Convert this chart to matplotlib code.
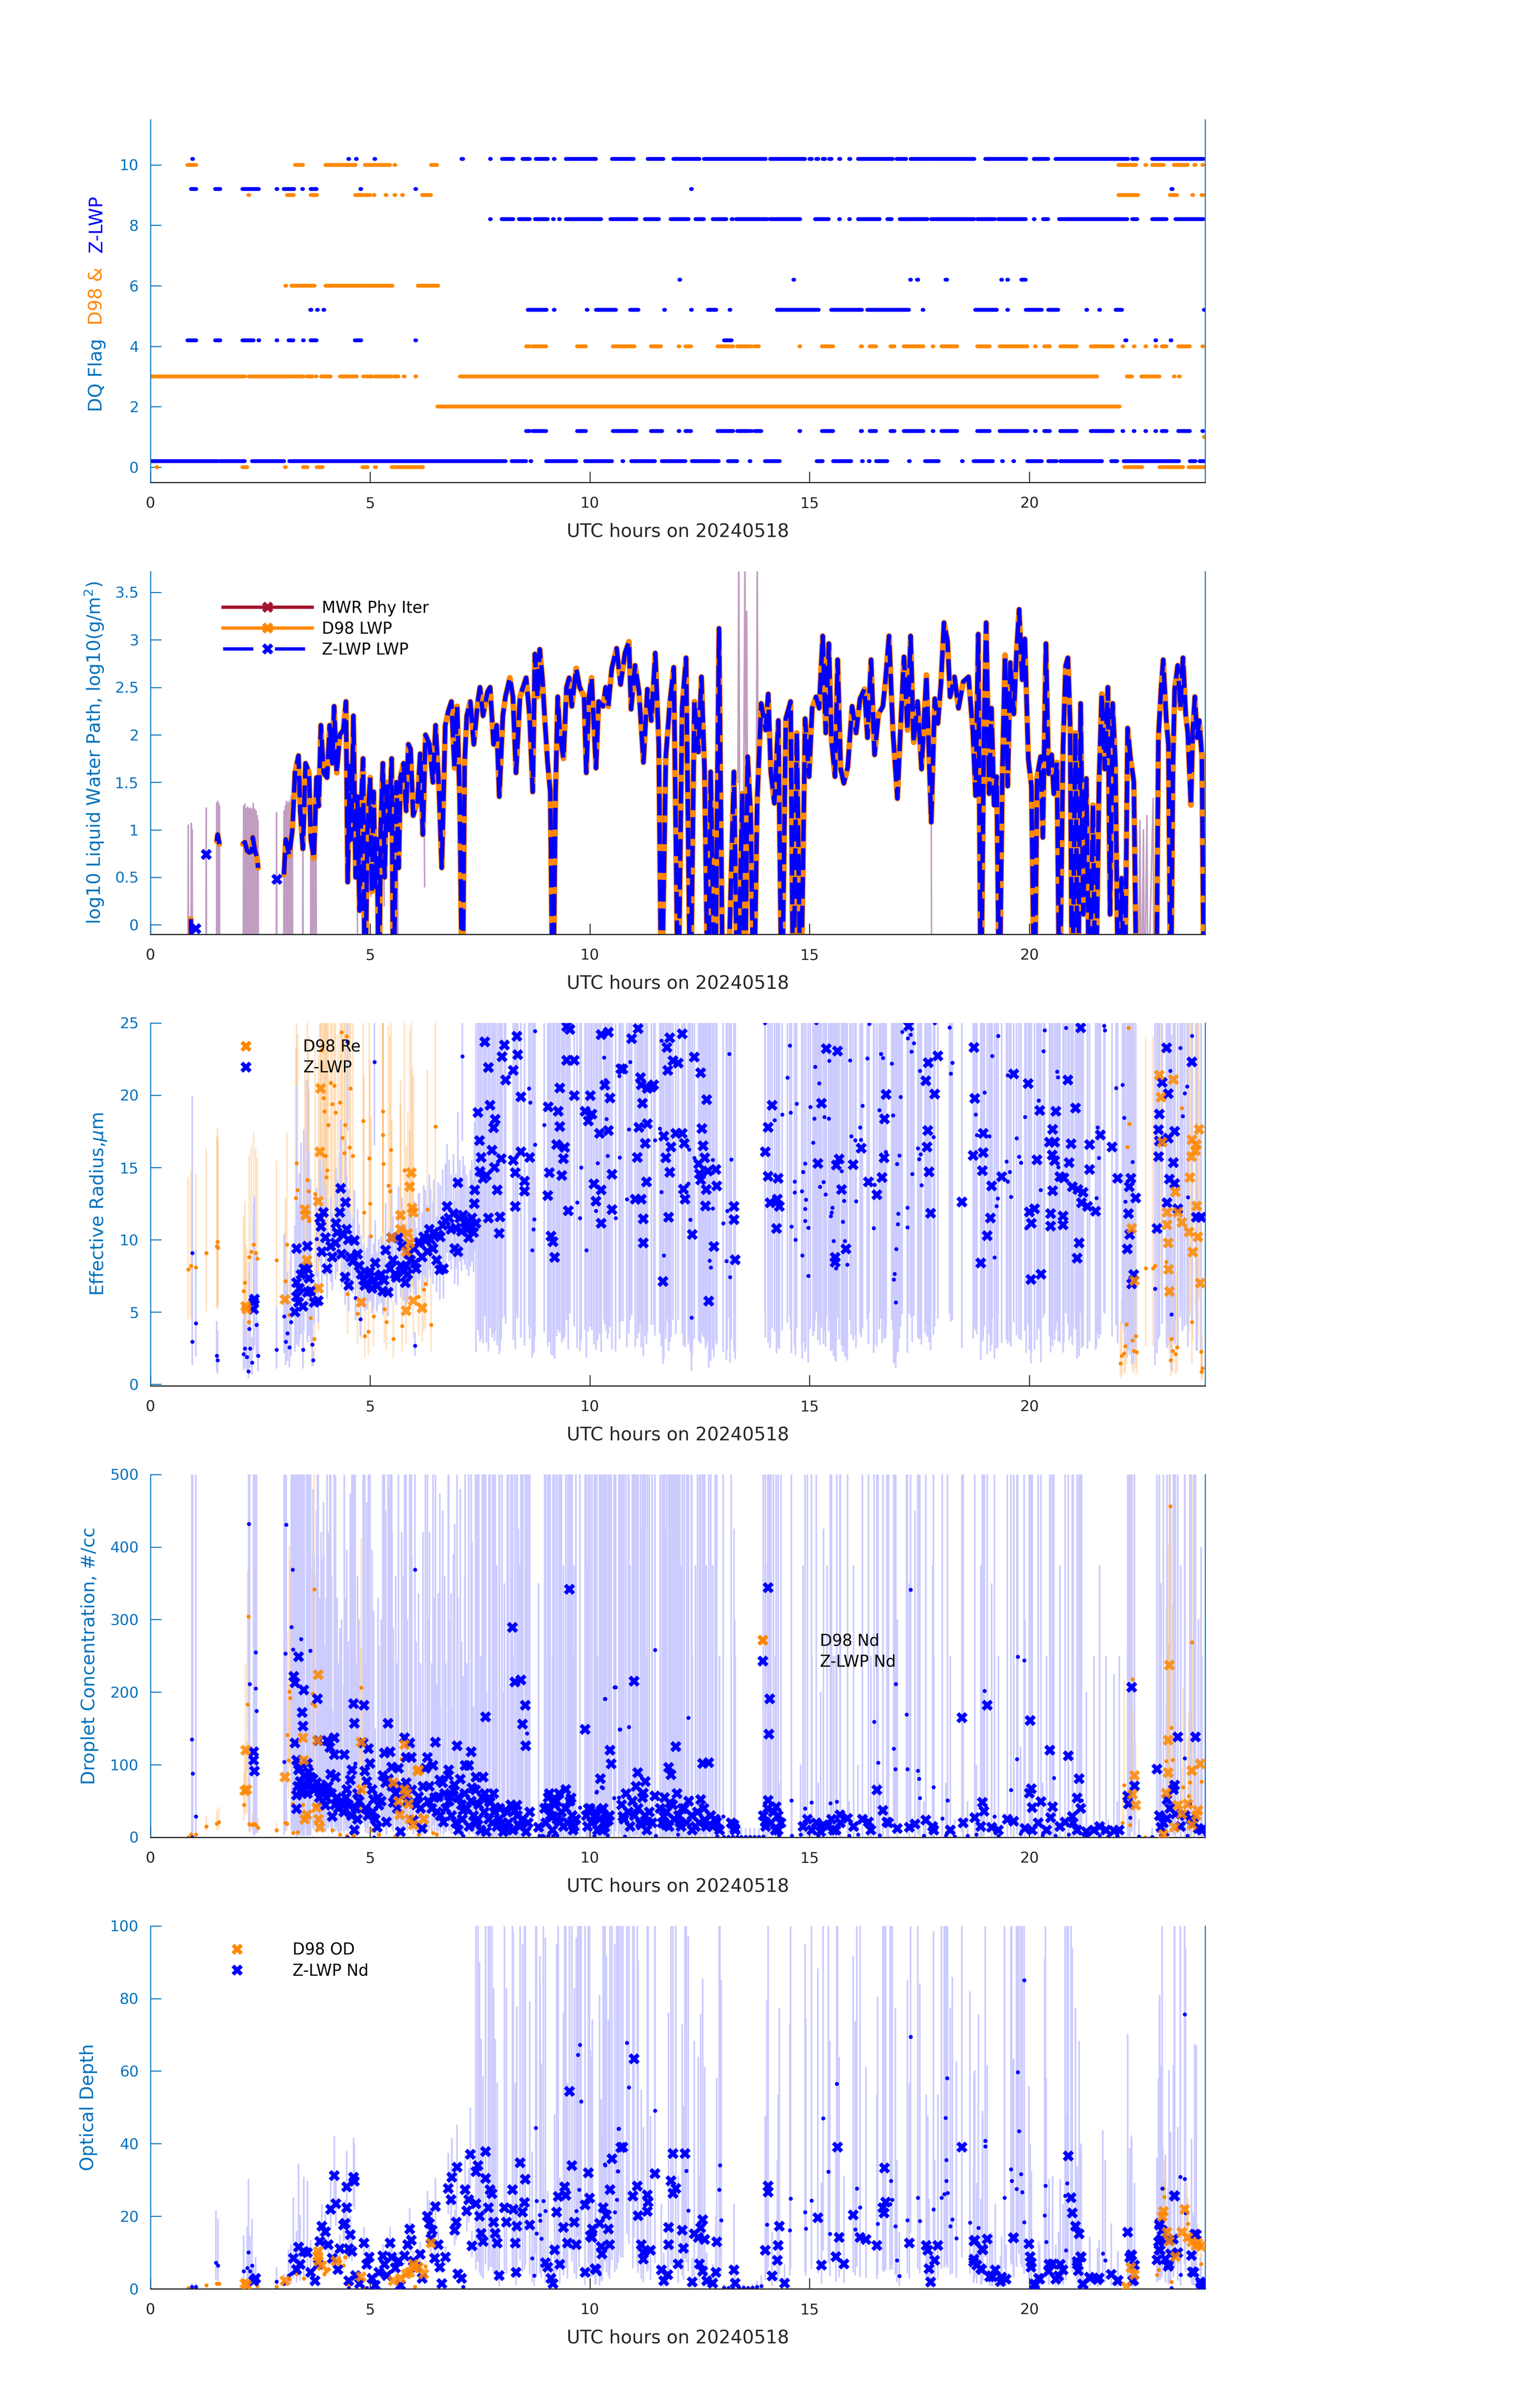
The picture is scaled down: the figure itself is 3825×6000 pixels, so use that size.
# --------------------------------------------------
# Cloud retrieval summary, 2024-05-18
# DQ flags / LWP / Re / Nd / optical depth
# --------------------------------------------------

import numpy as np
import matplotlib
matplotlib.use("Agg")
import matplotlib.pyplot as plt
from matplotlib.lines import Line2D
from matplotlib.ticker import FuncFormatter

nan = np.nan

# --------------------------------------------------
# DATA: panel 1, quality flags as (start, end) hour intervals
# --------------------------------------------------

zlwp_flag10 = [(0.95, 0.97), (4.5, 4.52), (4.68, 4.7), (5.1, 5.12), (7.08, 7.12), (7.73, 7.75),
               (8.0, 8.26), (8.47, 8.63), (8.77, 9.04), (9.18, 9.2), (9.45, 10.14), (10.5, 11.0),
               (11.32, 11.67), (11.9, 12.5), (12.6, 14.0), (14.1, 14.9), (15.0, 15.05), (15.15, 15.2),
               (15.3, 15.35), (15.45, 15.5), (15.67, 15.7), (15.9, 15.93), (16.1, 16.9), (16.98, 17.2),
               (17.3, 17.7), (17.73, 18.75), (19.0, 19.93), (20.1, 20.43), (20.6, 22.25), (22.34, 22.46),
               (22.8, 23.97)]
d98_flag10 = [(0.84, 1.04), (3.29, 3.47), (3.98, 4.67), (4.88, 5.45), (5.55, 5.57), (6.39, 6.52),
              (22.03, 22.43), (22.64, 22.66), (22.8, 23.06), (23.29, 23.6), (23.76, 23.78), (23.94, 23.96)]
zlwp_flag9 = [(0.92, 1.04), (1.47, 1.59), (2.09, 2.47), (2.87, 2.89), (3.03, 3.27), (3.45, 3.47),
              (3.65, 3.78), (4.78, 4.8), (6.03, 6.05), (12.3, 12.32), (23.24, 23.26)]
d98_flag9 = [(2.23, 2.25), (3.11, 3.26), (3.65, 3.79), (4.66, 4.84), (4.89, 5.0), (5.08, 5.1),
             (5.35, 5.37), (5.55, 5.57), (5.73, 5.75), (6.18, 6.39), (22.03, 22.48), (23.2, 23.36),
             (23.71, 23.73), (23.92, 23.96)]
zlwp_flag8 = [(7.73, 7.75), (7.99, 8.26), (8.39, 8.63), (8.75, 9.04), (9.16, 9.18), (9.3, 9.32),
              (9.45, 10.26), (10.47, 11.06), (11.25, 11.57), (11.84, 12.25), (12.4, 12.6), (12.8, 13.11),
              (13.23, 13.25), (13.33, 14.04), (14.09, 14.79), (15.13, 15.44), (15.67, 15.69), (15.9, 15.92),
              (16.1, 16.6), (16.77, 16.87), (17.05, 17.68), (17.77, 18.75), (18.82, 19.22), (19.29, 19.92),
              (20.1, 20.12), (20.31, 20.43), (20.68, 22.23), (22.34, 22.46), (22.8, 23.13), (23.33, 23.97)]
d98_flag6 = [(3.07, 3.09), (3.21, 3.74), (3.98, 4.8), (4.84, 5.51), (6.08, 6.55)]
zlwp_flag6 = [(12.04, 12.06), (14.63, 14.65), (17.29, 17.31), (17.45, 17.47), (18.09, 18.13),
              (19.36, 19.38), (19.5, 19.52), (19.82, 19.92)]
zlwp_flag5 = [(3.64, 3.66), (3.79, 3.81), (3.94, 3.96), (8.59, 9.02), (9.18, 9.2), (9.93, 9.95),
              (10.14, 10.6), (10.92, 11.11), (11.69, 11.71), (12.3, 12.32), (12.69, 12.88), (13.18, 13.2),
              (14.26, 15.21), (15.49, 16.19), (16.31, 17.26), (17.57, 17.59), (18.77, 19.26), (19.5, 19.52),
              (19.92, 20.29), (20.43, 20.66), (21.3, 21.32), (21.59, 21.61), (21.97, 22.11), (23.98, 24.0)]
d98_flag4 = [(8.55, 8.63), (8.7, 9.01), (9.71, 9.91), (10.52, 11.02), (11.39, 11.62), (12.02, 12.04),
             (12.18, 12.3), (12.91, 13.26), (13.35, 13.63), (13.67, 13.69), (13.76, 13.85), (14.77, 14.79),
             (15.28, 15.54), (16.17, 16.19), (16.37, 16.51), (16.84, 16.93), (17.14, 17.59), (17.8, 17.82),
             (18.0, 18.36), (18.82, 19.1), (19.33, 19.96), (20.13, 20.15), (20.34, 20.47), (20.71, 21.08),
             (21.4, 21.9), (22.12, 22.14), (22.38, 22.4), (22.64, 22.66), (22.87, 22.89), (23.02, 23.13),
             (23.39, 23.66), (23.94, 23.96)]
zlwp_flag4 = [(0.84, 1.04), (1.47, 1.59), (2.09, 2.35), (2.46, 2.48), (2.87, 2.89), (3.14, 3.25),
              (3.47, 3.49), (3.65, 3.78), (4.65, 4.8), (6.03, 6.05), (13.05, 13.23), (22.19, 22.21),
              (22.87, 22.89), (23.22, 23.24)]
d98_flag3 = [(0.0, 2.15), (2.23, 3.12), (3.16, 3.49), (3.56, 3.69), (3.76, 3.78), (3.88, 4.1),
             (4.31, 4.43), (4.47, 4.7), (4.84, 4.86), (4.92, 5.04), (5.11, 5.49), (5.55, 5.65),
             (5.76, 5.78), (6.03, 6.05), (7.04, 21.55), (22.22, 22.34), (22.55, 22.96), (23.29, 23.31),
             (23.41, 23.43)]
d98_flag2 = [(6.53, 22.06)]
zlwp_flag1 = [(8.55, 8.63), (8.7, 9.01), (9.71, 9.91), (10.52, 11.06), (11.39, 11.65), (12.02, 12.04),
              (12.18, 12.3), (12.91, 13.26), (13.35, 13.63), (13.67, 13.69), (13.76, 13.9), (14.77, 14.79),
              (15.28, 15.54), (16.17, 16.19), (16.37, 16.51), (16.84, 16.93), (17.14, 17.59), (17.8, 17.82),
              (18.0, 18.36), (18.82, 19.1), (19.33, 19.96), (20.13, 20.15), (20.34, 20.47), (20.71, 21.08),
              (21.4, 21.9), (22.12, 22.14), (22.38, 22.4), (22.64, 22.66), (22.87, 22.89), (23.02, 23.13),
              (23.39, 23.66), (23.94, 23.96)]
d98_flag1 = [(23.98, 24.0)]
zlwp_flag0 = [(0.0, 1.53), (1.57, 2.15), (2.31, 3.04), (3.16, 8.08), (8.22, 8.55), (8.65, 8.67),
              (9.01, 9.69), (9.89, 10.5), (10.74, 10.76), (10.94, 11.48), (11.64, 12.18), (12.32, 12.93),
              (13.14, 13.35), (13.64, 13.66), (13.98, 14.32), (15.16, 15.3), (15.54, 15.95), (16.19, 16.21),
              (16.35, 16.37), (16.51, 16.77), (17.26, 17.28), (17.63, 17.94), (18.47, 18.49), (18.73, 19.17),
              (19.38, 19.4), (19.64, 19.66), (19.96, 20.29), (20.43, 20.62), (20.71, 21.66), (21.87, 22.0),
              (22.15, 23.41), (23.66, 23.78), (23.88, 24.0)]
d98_flag0 = [(0.14, 0.16), (2.09, 2.2), (3.06, 3.08), (3.47, 3.57), (3.78, 3.92), (4.82, 4.94),
             (5.11, 5.13), (5.49, 6.2), (22.17, 22.57), (22.96, 23.5), (23.63, 24.0)]

# --------------------------------------------------
# DATA: panel 2, log10 LWP (hour, value); nan = gap, -1 = below axis
# --------------------------------------------------

d98_lwp = [
    (0.92, 0.06), (0.94, -1.0), (0.945, nan), (1.03, -0.04), (1.04, nan), (1.27, 0.74), (1.28, nan),
    (1.51, 0.88), (1.53, 0.95), (1.57, 0.85), (1.58, nan),
    (2.10, 0.85), (2.15, 0.87), (2.20, 0.78), (2.25, 0.76), (2.30, 0.77), (2.33, 0.92), (2.38, 0.78),
    (2.42, 0.72), (2.45, 0.60), (2.46, nan), (2.88, 0.48), (2.89, nan),
    (3.04, 0.53), (3.08, 0.9), (3.16, 0.73), (3.23, 1.0), (3.29, 1.6), (3.37, 1.78), (3.41, 1.2),
    (3.47, 0.8), (3.53, 1.7), (3.61, 1.6), (3.65, 0.9), (3.72, 0.7), (3.78, 1.55), (3.83, 1.25),
    (3.88, 2.1), (3.94, 1.6), (4.02, 1.55), (4.08, 2.1), (4.14, 1.7), (4.18, 2.3), (4.24, 1.6),
    (4.31, 2.0), (4.39, 2.05), (4.45, 2.35), (4.49, 0.45), (4.54, 1.7), (4.57, 0.9), (4.62, 2.2),
    (4.67, 0.5), (4.71, 1.35), (4.76, 0.15), (4.8, 1.3), (4.84, 1.75), (4.88, -1.0), (4.94, 1.0),
    (5.0, 1.55), (5.04, 0.35), (5.08, 1.4), (5.12, 0.4), (5.16, 0.9), (5.2, -1.0), (5.24, 1.0),
    (5.29, 1.7), (5.33, 0.5), (5.38, 1.5), (5.43, 1.0), (5.49, 1.75), (5.53, -1.0), (5.6, 1.5),
    (5.65, 0.6), (5.69, 1.55), (5.76, 1.7), (5.82, 1.2), (5.87, 1.9), (5.92, 1.85), (5.98, 1.15),
    (6.08, 1.3), (6.14, 1.8), (6.2, 0.95), (6.26, 2.0), (6.35, 1.9), (6.43, 1.5), (6.49, 2.1),
    (6.57, 1.4), (6.63, 0.6), (6.71, 2.1), (6.78, 2.25), (6.85, 2.35), (6.92, 1.65), (6.98, 2.3),
    (7.04, 1.3), (7.1, -1.0), (7.15, 1.7), (7.2, 2.2), (7.28, 2.35), (7.36, 1.9), (7.45, 2.35),
    (7.5, 2.5), (7.57, 2.2), (7.67, 2.45), (7.73, 2.5), (7.81, 1.9), (7.88, 2.1), (7.94, 1.35),
    (8.02, 2.2), (8.08, 2.4), (8.18, 2.6), (8.25, 2.4), (8.32, 1.6), (8.41, 2.4), (8.55, 2.6),
    (8.63, 2.2), (8.7, 1.4), (8.75, 2.85), (8.81, 2.4), (8.86, 2.9), (8.92, 2.6), (8.97, 2.2),
    (9.04, 1.7), (9.1, 1.4), (9.16, -1.0), (9.22, 1.4), (9.27, 2.4), (9.32, 2.0), (9.4, 1.75),
    (9.47, 2.5), (9.53, 2.6), (9.59, 2.3), (9.69, 2.7), (9.77, 2.5), (9.87, 2.4), (9.92, 1.6),
    (9.98, 2.4), (10.04, 2.6), (10.14, 1.65), (10.2, 2.35), (10.3, 2.3), (10.36, 2.5), (10.42, 2.3),
    (10.5, 2.7), (10.61, 2.91), (10.7, 2.53), (10.8, 2.86), (10.89, 2.98), (10.94, 2.27), (11.03, 2.73),
    (11.12, 2.45), (11.22, 1.71), (11.31, 2.48), (11.4, 2.15), (11.49, 2.86), (11.57, 1.89),
    (11.63, -1.0), (11.73, 1.77), (11.82, 2.33), (11.91, 2.71), (12.01, -1.0), (12.1, 2.28),
    (12.19, 2.81), (12.29, -1.0), (12.38, 2.35), (12.47, 1.82), (12.54, 2.61), (12.61, 1.64),
    (12.69, -1.0), (12.75, 1.61), (12.85, -1.0), (12.94, 3.12), (13.03, -1.0), (13.13, -1.0),
    (13.28, 1.61), (13.36, -1.0), (13.47, 1.38), (13.53, -1.0), (13.59, 1.77), (13.66, 1.18),
    (13.73, -1.0), (13.81, 1.31), (13.9, 2.33), (14.0, 2.05), (14.06, 2.43), (14.12, 1.61),
    (14.2, 1.28), (14.29, 2.15), (14.37, -1.0), (14.46, 2.17), (14.57, 2.35), (14.63, -1.0),
    (14.71, 2.02), (14.8, -1.0), (14.9, 2.17), (14.99, 1.56), (15.06, 2.28), (15.15, 2.4),
    (15.22, 2.28), (15.3, 3.04), (15.37, 2.02), (15.44, 2.96), (15.5, 1.94), (15.58, 1.56),
    (15.64, 2.79), (15.71, 1.64), (15.78, 1.49), (15.87, 1.66), (15.97, 2.3), (16.06, 2.02),
    (16.15, 2.38), (16.25, 2.48), (16.32, 1.97), (16.4, 2.79), (16.48, 1.79), (16.57, 2.22),
    (16.67, 2.3), (16.73, 2.58), (16.81, 3.04), (16.9, 2.02), (17.0, 1.33), (17.07, 2.05),
    (17.15, 2.82), (17.23, 2.05), (17.3, 3.04), (17.37, 1.92), (17.46, 2.35), (17.55, 1.64),
    (17.66, 2.63), (17.77, 1.08), (17.85, 2.38), (17.92, 2.12), (17.99, 2.53), (18.06, 3.18),
    (18.14, 2.99), (18.2, 2.4), (18.3, 2.61), (18.39, 2.28), (18.5, 2.56), (18.62, 2.61),
    (18.72, 2.02), (18.78, 1.36), (18.84, 3.06), (18.9, -1.0), (18.97, 2.02), (19.02, 3.18),
    (19.09, 1.38), (19.14, 2.28), (19.2, 1.26), (19.26, 1.56), (19.32, -1.0), (19.39, 1.64),
    (19.45, 2.84), (19.51, 1.46), (19.57, 2.76), (19.65, 2.22), (19.71, 2.86), (19.77, 3.32),
    (19.84, 2.58), (19.9, 3.01), (19.98, 1.74), (20.05, 1.46), (20.12, -1.0), (20.18, 1.56),
    (20.26, 1.77), (20.31, 0.92), (20.38, 2.96), (20.44, 1.59), (20.51, 1.79), (20.56, 1.38),
    (20.63, 1.71), (20.69, -1.0), (20.77, 1.87), (20.83, 2.73), (20.88, 2.81), (20.93, 2.15),
    (20.98, -1.0), (21.05, 2.02), (21.11, -1.0), (21.17, 2.33), (21.23, 0.11), (21.3, 1.54),
    (21.37, -1.0), (21.45, 1.26), (21.51, -1.0), (21.59, 1.51), (21.65, 2.43), (21.72, 1.64),
    (21.79, 2.5), (21.84, 0.11), (21.9, 2.33), (21.96, 1.71), (22.03, -1.0), (22.1, 0.49),
    (22.17, -1.0), (22.24, 2.07), (22.3, 1.77), (22.38, 1.51), (22.45, -1.0), (22.5, nan),
    (22.89, -1.0), (22.94, 1.97), (23.0, 2.48), (23.05, 2.79), (23.12, 2.15), (23.17, 1.89),
    (23.22, -1.0), (23.27, 1.64), (23.31, 2.48), (23.38, 2.73), (23.44, 2.28), (23.5, 2.81),
    (23.56, 2.22), (23.61, 2.02), (23.68, 1.26), (23.72, 2.02), (23.77, 2.4), (23.82, 1.97),
    (23.87, 2.15), (23.93, 1.77), (23.98, -1.0),
]
# the Z-LWP LWP retrieval lies on top of the D98 curve
zlwp_lwp = d98_lwp

mwr_lwp = [
    (0.85, -1), (0.86, 1.05), (0.87, -1), (0.92, -1), (0.93, 1.07), (0.94, -1), (0.95, 1.0), (0.96, -1),
    (0.97, nan), (1.26, -1), (1.27, 1.23), (1.28, -1), (1.29, nan),
    (1.5, -1), (1.51, 1.28), (1.52, -1), (1.53, 1.3), (1.54, -1), (1.55, 1.28), (1.56, -1),
    (1.57, 1.25), (1.58, -1), (1.59, nan),
    (2.11, -1), (2.12, 1.25), (2.13, -1), (2.15, 1.27), (2.16, -1), (2.18, 1.22), (2.19, -1),
    (2.21, 1.24), (2.22, -1), (2.24, 1.22), (2.25, -1), (2.27, 1.23), (2.28, -1), (2.3, 1.22),
    (2.31, -1), (2.34, 1.28), (2.35, -1), (2.37, 1.22), (2.38, -1), (2.4, 1.2), (2.41, -1),
    (2.43, 1.15), (2.44, -1), (2.45, 1.1), (2.46, -1), (2.47, nan),
    (2.86, -1), (2.87, 1.18), (2.88, -1), (2.89, nan),
    (3.03, -1), (3.04, 1.2), (3.05, -1), (3.07, 1.25), (3.08, -1), (3.1, 1.3), (3.11, -1),
    (3.13, 1.28), (3.14, -1), (3.16, 1.3), (3.17, -1), (3.2, 1.35), (3.21, -1), (3.23, 1.3),
    (3.24, -1), (3.25, nan), (3.46, -1), (3.47, 1.2), (3.48, -1), (3.49, nan),
    (3.64, -1), (3.65, 0.95), (3.66, -1), (3.69, 0.9), (3.7, -1), (3.73, 0.95), (3.74, -1),
    (3.77, 0.9), (3.78, -1), (3.79, nan),
    (4.7, 1.3), (4.72, -1), (4.73, nan), (5.0, 1.5), (5.02, 0.3), (5.03, nan), (5.3, 1.6), (5.32, 0.2),
    (5.33, nan), (5.62, 1.4), (5.64, -1), (5.65, nan), (6.22, 1.9), (6.24, 0.4), (6.25, nan),
    (13.37, 1.5), (13.39, 4.0), (13.41, 1.2), (13.5, 1.3), (13.53, 4.0), (13.55, 1.0), (13.57, 3.3),
    (13.59, 1.2), (13.6, nan), (13.79, 1.5), (13.81, 4.0), (13.83, 1.3), (13.84, nan),
    (17.77, 1.08), (17.78, -1), (17.79, nan),
    (22.42, -1), (22.45, 1.0), (22.48, -1), (22.52, 1.1), (22.55, -1), (22.6, 1.0), (22.62, -1),
    (22.68, 1.15), (22.7, -1), (22.82, 1.33), (22.84, -1),
]

# --------------------------------------------------
# DATA: panel 3, effective radius (hour, um)
# --------------------------------------------------

zlwp_re_x = [
    (2.35, 5.68), (2.35, 5.2), (2.37, 5.9), (3.29, 5.0), (3.33, 6.07), (3.33, 7.04), (3.37, 5.68),
    (3.39, 6.65), (3.43, 7.6), (3.49, 8.0), (3.57, 8.0), (3.33, 9.38), (3.57, 9.57), (3.47, 5.4),
    (3.57, 6.36), (3.65, 6.46), (3.73, 5.68), (3.82, 5.78), (3.61, 7.33), (3.86, 11.5), (3.88, 10.93),
    (3.94, 11.9), (3.9, 9.18), (3.98, 10.15), (4.02, 8.0), (4.1, 9.57), (4.14, 8.8), (4.21, 9.77),
    (4.22, 11.13), (4.31, 11.9), (4.33, 13.56), (4.39, 10.35), (4.44, 12.59), (4.47, 10.74),
    (4.43, 7.43), (4.51, 6.85), (4.55, 8.8), (4.64, 9.96), (4.71, 9.0), (4.8, 7.63), (4.88, 6.85),
    (4.96, 7.63), (5.04, 6.65), (5.12, 8.4), (5.2, 7.43), (5.29, 6.46), (5.35, 9.28), (5.41, 6.36),
    (5.49, 10.15), (5.57, 7.63), (5.65, 10.15), (5.73, 9.57), (5.8, 7.04), (5.86, 7.63), (5.92, 8.6),
    (6.02, 8.4), (6.1, 9.77), (6.18, 8.8), (6.26, 9.96), (6.35, 10.74), (6.43, 9.38), (6.51, 8.6),
    (6.55, 10.35), (6.59, 7.92), (6.67, 8.0), (6.71, 11.32), (6.75, 12.3), (6.84, 10.74), (6.92, 9.38),
    (7.0, 13.95), (7.0, 9.18), (7.04, 11.5), (7.12, 11.7), (7.2, 10.74), (7.24, 10.15), (7.32, 11.5),
    (7.37, 12.49), (7.38, 13.46), (7.41, 11.13), (7.45, 18.8), (7.49, 16.87), (7.5, 14.73),
    (7.53, 15.7), (7.57, 14.26), (7.61, 23.68), (7.65, 14.44), (7.69, 21.9), (7.69, 11.5),
    (7.73, 19.29), (7.77, 16.19), (7.81, 17.74), (7.83, 15.0), (7.85, 18.32), (7.89, 13.46),
    (7.94, 10.45), (7.96, 11.6), (7.98, 15.6), (8.0, 22.67), (8.06, 23.48), (8.08, 21.05),
    (8.26, 21.73), (8.26, 15.5), (8.3, 14.63), (8.3, 12.3), (8.34, 24.07), (8.36, 22.8), (8.43, 19.88),
    (8.43, 16.09), (8.51, 14.05), (8.51, 13.37), (8.63, 15.7), (9.04, 13.07), (9.05, 19.2),
    (9.08, 14.63), (9.12, 10.25), (9.16, 9.86), (9.2, 8.79), (9.24, 16.58), (9.28, 18.9),
    (9.32, 17.84), (9.36, 14.44), (9.4, 15.6), (9.43, 16.38), (9.32, 20.5), (9.51, 12.0),
    (9.47, 24.75), (9.55, 24.55), (9.47, 22.4), (9.65, 22.4), (9.65, 19.98), (9.89, 18.9),
    (9.97, 18.23), (10.05, 18.7), (10.01, 19.98), (10.09, 13.85), (10.22, 17.35), (10.26, 24.2),
    (10.42, 24.36), (10.14, 12.68), (10.26, 13.46), (10.26, 11.13), (10.34, 20.7), (10.42, 17.55),
    (10.46, 19.79), (10.5, 14.53), (10.5, 12.1), (10.71, 21.83), (10.75, 21.8), (10.95, 23.9),
    (11.1, 24.6), (11.08, 15.7), (11.12, 17.77), (11.15, 21.21), (11.17, 20.71), (11.2, 19.45),
    (11.29, 13.99), (11.31, 18.02), (11.26, 16.67), (11.31, 20.46), (11.4, 20.54), (11.45, 20.71),
    (11.17, 12.81), (11.03, 12.81), (11.22, 11.46), (11.22, 9.78), (11.68, 17.18), (11.76, 23.31),
    (11.77, 21.72), (11.82, 23.98), (11.85, 16.42), (11.89, 22.39), (12.01, 22.22), (12.1, 24.24),
    (11.73, 15.67), (11.82, 14.66), (11.96, 17.35), (12.1, 17.35), (12.15, 16.67), (12.13, 13.51),
    (12.17, 12.81), (11.79, 11.55), (11.66, 7.13), (12.33, 10.37), (12.38, 22.64), (12.52, 21.55),
    (12.55, 17.68), (12.58, 16.51), (12.61, 15.67), (12.48, 15.25), (12.5, 14.57), (12.52, 14.15),
    (12.66, 19.7), (12.69, 14.74), (12.65, 13.48), (12.63, 12.34), (12.87, 14.86), (12.89, 13.73),
    (12.82, 9.53), (12.71, 5.75), (13.28, 12.3), (13.28, 11.38), (13.31, 8.61), (13.99, 16.09),
    (14.06, 17.77), (14.15, 19.31), (14.06, 14.4), (14.29, 14.24), (14.1, 12.56), (14.27, 12.81),
    (14.31, 12.3), (14.25, 10.79), (15.27, 19.45), (15.38, 23.23), (15.64, 23.06), (15.19, 15.28),
    (15.61, 15.16), (15.67, 15.58), (15.73, 13.48), (15.58, 8.78), (15.58, 8.44), (15.83, 9.36),
    (15.99, 15.2), (16.18, 16.34), (16.34, 13.99), (16.53, 13.11), (16.65, 14.32), (16.71, 18.35),
    (16.74, 20.04), (16.7, 15.67), (17.25, 24.77), (17.65, 20.99), (17.7, 22.25), (17.85, 20.09),
    (17.92, 22.72), (17.69, 17.55), (17.67, 16.42), (17.72, 14.69), (17.76, 11.85), (18.47, 12.61),
    (18.74, 23.31), (18.76, 19.78), (18.72, 15.83), (18.95, 17.35), (18.95, 16.04), (18.93, 14.79),
    (19.14, 13.73), (19.12, 11.5), (19.04, 10.29), (18.9, 8.39), (19.37, 14.35), (19.65, 21.46),
    (19.98, 20.79), (20.18, 15.53), (20.24, 18.94), (20.61, 18.89), (20.53, 17.65), (20.46, 16.76),
    (20.58, 16.76), (20.52, 15.87), (20.58, 15.46), (20.91, 15.33), (20.95, 16.64), (20.88, 21.04),
    (21.05, 19.11), (21.37, 16.59), (21.37, 14.86), (20.7, 14.35), (20.79, 14.29), (20.53, 13.4),
    (20.98, 13.68), (21.11, 13.48), (21.23, 13.28), (21.19, 12.56), (21.33, 12.3), (21.51, 11.97),
    (21.62, 17.26), (21.88, 16.42), (21.17, 24.66), (20.0, 11.93), (20.12, 12.14), (20.05, 11.13),
    (20.49, 11.8), (20.77, 11.63), (20.49, 10.96), (20.77, 11.04), (21.14, 9.78), (21.09, 8.74),
    (20.27, 7.63), (20.04, 7.26), (22.01, 14.24), (22.31, 14.24), (22.28, 13.68), (22.42, 12.89),
    (22.26, 11.8), (22.29, 10.37), (22.23, 9.36), (22.38, 7.6), (22.33, 6.96), (22.94, 15.75),
    (22.96, 18.69), (22.94, 17.6), (22.96, 16.84), (23.03, 20.88), (23.13, 23.26), (23.16, 20.12),
    (23.19, 14.19), (23.31, 13.9), (23.28, 15.33), (23.31, 17.51), (23.16, 17.04), (23.14, 12.56),
    (23.38, 12.14), (22.91, 10.79), (23.7, 22.3), (23.8, 11.55), (23.91, 11.55),
]
# the packed band of retrievals between 4 and 7.5 UTC
zlwp_re_x_band = [
    (4.25, 10.5), (4.35, 9.0), (4.5, 10.0), (4.6, 8.5), (4.75, 8.2), (4.85, 7.2), (4.92, 7.0),
    (5.0, 7.8), (5.08, 7.2), (5.15, 6.8), (5.25, 7.6), (5.32, 7.2), (5.45, 8.0), (5.52, 8.6),
    (5.6, 7.4), (5.7, 8.2), (5.76, 7.8), (5.82, 8.2), (5.88, 9.0), (6.0, 9.4), (6.05, 8.0),
    (6.12, 9.8), (6.22, 10.2), (6.3, 9.2), (6.38, 10.0), (6.45, 10.5), (6.6, 10.2), (6.65, 11.0),
    (6.8, 11.5), (6.9, 11.8), (6.95, 10.8), (7.08, 10.6), (7.15, 11.2), (7.28, 11.0), (7.35, 10.5),
]
zlwp_re_dot = [
    (0.95, 9.08), (0.95, 2.96), (1.03, 4.22), (1.51, 1.98), (1.53, 1.69), (2.12, 2.08), (2.15, 2.47),
    (2.19, 1.89), (2.23, 0.91), (2.25, 3.83), (2.27, 2.47), (2.31, 1.5), (2.41, 4.12), (2.45, 1.98),
    (2.87, 2.41), (3.04, 4.71), (3.08, 2.96), (3.12, 3.54), (3.16, 2.57), (3.2, 4.32), (3.47, 2.41),
    (3.68, 2.76), (3.7, 1.69), (3.78, 10.06), (4.49, 23.68), (4.67, 5.97), (4.78, 4.51), (5.1, 22.3),
    (6.02, 2.67), (7.1, 22.7), (8.61, 20.47), (8.64, 19.5), (8.69, 9.28), (8.71, 10.74), (8.73, 11.42),
    (8.75, 16.58), (8.75, 24.45), (8.96, 17.94), (9.8, 15.0), (9.77, 11.5), (9.71, 12.59), (9.92, 9.28),
    (10.14, 12.0), (10.18, 15.3), (10.32, 22.6), (10.38, 18.36), (10.4, 15.8), (10.36, 21.05),
    (10.59, 11.5), (10.68, 15.7), (10.67, 21.34), (10.84, 12.81), (10.89, 17.65), (10.92, 22.3),
    (11.48, 16.88), (11.59, 17.68), (11.63, 23.77), (11.63, 13.31), (11.68, 8.91), (12.24, 13.9),
    (12.26, 16.25), (12.29, 11.38), (12.31, 4.62), (12.38, 15.67), (12.72, 8.56), (12.75, 8.1),
    (12.8, 15.53), (12.8, 12.17), (13.03, 11.13), (13.11, 8.52), (13.13, 12.0), (13.17, 22.86),
    (13.19, 7.43), (13.22, 15.55), (13.98, 25.0), (14.2, 18.27), (14.38, 18.66), (14.5, 21.21),
    (14.55, 23.45), (14.57, 18.81), (14.59, 10.93), (14.66, 14.02), (14.66, 13.28), (14.68, 10.0),
    (14.71, 19.41), (14.82, 13.35), (14.83, 8.91), (14.85, 14.69), (14.9, 15.28), (14.9, 12.14),
    (14.9, 11.3), (14.92, 12.78), (14.97, 10.84), (14.97, 7.51), (15.02, 19.2), (15.08, 16.71),
    (15.11, 18.39), (15.13, 21.97), (15.15, 25.0), (15.22, 20.84), (15.24, 13.68), (15.32, 13.99),
    (15.34, 18.49), (15.36, 13.14), (15.44, 18.4), (15.45, 22.39), (15.48, 11.63), (15.5, 11.88),
    (15.52, 12.22), (15.55, 9.92), (15.6, 8.02), (15.73, 14.74), (15.76, 11.25), (15.78, 12.69),
    (15.8, 9.92), (15.86, 8.27), (15.92, 22.42), (15.95, 17.18), (16.04, 16.88), (16.06, 12.67),
    (16.15, 17.77), (16.17, 16.93), (16.2, 19.28), (16.31, 22.56), (16.36, 24.94), (16.46, 10.82),
    (16.48, 13.82), (16.59, 18.98), (16.62, 22.86), (16.67, 22.59), (16.73, 16.09), (16.87, 22.19),
    (16.9, 18.61), (16.92, 7.26), (16.93, 7.65), (16.96, 5.67), (16.97, 9.36), (16.99, 15.25),
    (17.01, 11.09), (17.02, 11.8), (17.04, 15.83), (17.07, 19.9), (17.11, 24.37), (17.23, 12.22),
    (17.23, 10.87), (17.24, 23.93), (17.3, 24.19), (17.32, 23.01), (17.34, 14.57), (17.37, 23.6),
    (17.46, 16.34), (17.49, 15.58), (17.51, 21.68), (17.53, 15.92), (17.55, 13.78), (17.63, 17.77),
    (17.82, 17.1), (17.85, 25.0), (18.19, 24.69), (18.21, 21.51), (18.25, 22.25), (18.78, 18.66),
    (18.81, 17.26), (18.98, 20.2), (19.09, 17.18), (19.15, 22.72), (19.21, 8.78), (19.25, 12.34),
    (19.28, 12.86), (19.29, 24.12), (19.48, 15.41), (19.51, 14.02), (19.51, 21.38), (19.56, 14.69),
    (19.58, 12.98), (19.71, 17.04), (19.77, 15.75), (19.81, 15.33), (19.9, 18.49), (19.93, 10.82),
    (20.21, 19.65), (20.26, 13.45), (20.32, 23.06), (20.35, 24.49), (20.63, 21.63), (20.65, 21.24),
    (20.66, 15.04), (20.83, 24.66), (21.0, 19.28), (21.53, 12.89), (21.56, 17.77), (21.58, 15.67),
    (21.7, 24.79), (21.72, 24.49), (21.98, 20.51), (22.12, 20.71), (22.16, 18.44), (22.35, 15.38),
    (22.19, 12.64), (22.86, 6.62), (23.21, 21.68), (23.24, 4.83), (23.44, 23.28), (23.49, 18.56),
    (23.54, 20.15), (23.59, 20.62), (23.61, 12.94), (23.7, 24.12), (23.82, 11.58),
]
d98_re_x = [
    (2.17, 5.39), (2.19, 5.2), (3.06, 5.88), (3.52, 12.1), (3.54, 11.7), (3.56, 8.6), (3.82, 12.68),
    (3.83, 6.65), (3.87, 20.47), (3.86, 16.09), (4.8, 5.68), (5.49, 10.15), (5.69, 11.7), (5.69, 10.74),
    (5.82, 5.1), (5.9, 13.66), (5.94, 14.63), (5.96, 12.2), (5.98, 11.9), (5.86, 10.45), (5.9, 9.77),
    (5.82, 9.18), (5.98, 5.78), (6.18, 5.29), (22.96, 21.38), (23.28, 21.08), (23.0, 19.87),
    (23.03, 16.76), (23.87, 17.65), (23.7, 16.93), (23.8, 16.59), (23.78, 16.17), (23.69, 15.75),
    (23.66, 14.32), (23.33, 13.31), (23.14, 11.88), (23.38, 11.88), (23.14, 11.04), (23.47, 11.21),
    (23.64, 10.54), (23.84, 10.2), (23.81, 12.34), (23.16, 9.78), (23.72, 9.15), (23.17, 7.94),
    (23.19, 6.42), (23.89, 7.01), (22.33, 10.79), (22.4, 7.18),
]
d98_re_dot = [
    (0.86, 7.96), (0.92, 8.2), (1.03, 8.1), (1.27, 9.08), (1.51, 9.57), (1.53, 9.86), (1.54, 9.45),
    (2.12, 6.46), (2.15, 7.04), (2.24, 4.32), (2.25, 8.8), (2.29, 9.18), (2.35, 9.67), (2.39, 9.08),
    (2.43, 8.7), (2.87, 8.6), (3.11, 9.67), (3.07, 7.14), (3.16, 4.8), (3.31, 12.88), (3.33, 15.3),
    (3.34, 13.46), (3.57, 14.14), (3.6, 13.37), (3.61, 11.32), (3.65, 4.6), (3.73, 3.15), (3.75, 13.17),
    (3.9, 23.1), (3.94, 19.8), (3.96, 18.9), (3.98, 15.8), (4.0, 14.34), (4.02, 14.82), (4.05, 17.94),
    (4.1, 20.86), (4.14, 19.4), (4.18, 20.66), (4.21, 18.8), (4.27, 13.46), (4.31, 19.5), (4.35, 24.36),
    (4.37, 17.06), (4.41, 16.0), (4.43, 17.94), (4.47, 24.07), (4.49, 6.26), (4.53, 16.38),
    (4.55, 20.47), (4.6, 15.8), (4.84, 18.23), (4.86, 11.9), (4.98, 15.64), (5.0, 12.49), (5.02, 10.25),
    (5.08, 4.7), (5.29, 18.9), (5.29, 17.26), (5.3, 15.25), (5.33, 5.2), (5.37, 4.32), (5.47, 16.22),
    (5.42, 13.76), (5.45, 13.37), (5.53, 3.15), (5.73, 4.03), (5.78, 14.82), (6.1, 6.07), (6.22, 6.56),
    (6.26, 6.95), (6.3, 12.1), (6.39, 4.12), (6.49, 17.84), (4.88, 3.35), (4.71, 4.9), (4.96, 3.64),
    (22.26, 24.66), (22.28, 18.02), (22.23, 16.42), (22.21, 4.15), (22.42, 3.35), (22.35, 3.03),
    (22.19, 2.64), (22.16, 2.14), (22.1, 1.97), (22.08, 1.46), (22.38, 2.31), (22.44, 2.22),
    (22.65, 8.02), (22.82, 8.02), (22.86, 8.19), (23.12, 8.49), (23.24, 3.14), (23.26, 2.31),
    (23.36, 2.56), (23.33, 2.09), (23.22, 1.68), (23.47, 19.11), (23.49, 18.56), (23.7, 4.32),
    (23.91, 2.26), (23.94, 1.13), (23.92, 0.88),
]

# --------------------------------------------------
# DATA: panel 4, droplet concentration (hour, #/cc)
# --------------------------------------------------

zlwp_nd_x = [
    (2.35, 118), (2.35, 106), (2.37, 91), (3.26, 222), (3.29, 213), (3.37, 249), (3.29, 130), (3.45, 172),
    (3.47, 153), (3.49, 203), (3.33, 106), (3.37, 93), (3.33, 58), (3.33, 39), (3.41, 77), (3.49, 73),
    (3.57, 102), (3.57, 60), (3.65, 83), (3.78, 75), (3.8, 191), (3.82, 133), (3.9, 64), (4.02, 133),
    (4.08, 124), (4.18, 137), (4.18, 114), (4.1, 87), (4.21, 83), (3.98, 44), (4.14, 29), (4.31, 48),
    (4.41, 114), (4.47, 66), (4.55, 79), (4.62, 184), (4.64, 157), (4.59, 93), (4.71, 60), (4.71, 25),
    (4.64, 10), (4.86, 182), (4.84, 130), (4.88, 91), (4.92, 77), (4.96, 122), (5.0, 102), (5.04, 66),
    (5.08, 52), (5.16, 14), (5.2, 44), (5.29, 85), (5.33, 116), (5.41, 157), (5.45, 118), (5.49, 97),
    (5.53, 48), (5.37, 21), (5.65, 95), (5.69, 8), (5.78, 137), (5.82, 110), (5.82, 75), (5.9, 130),
    (5.94, 110), (5.98, 23), (6.1, 56), (6.18, 12), (6.26, 95), (6.3, 110), (6.35, 70), (6.43, 99),
    (6.49, 131), (6.55, 56), (6.59, 79), (6.67, 21), (6.79, 93), (6.84, 56), (6.92, 72), (6.98, 126),
    (7.01, 10), (7.12, 37), (7.16, 99), (7.24, 99), (7.3, 118), (7.32, 68), (7.41, 83), (7.57, 83),
    (7.45, 25), (7.61, 60), (7.63, 166), (7.65, 8), (7.73, 48), (7.81, 60), (7.85, 41), (7.94, 25),
    (8.06, 14), (8.24, 289), (8.29, 214), (8.43, 217), (8.47, 156), (8.53, 182), (8.54, 126), (8.29, 37),
    (8.34, 44), (8.38, 17), (8.63, 35), (8.83, 14), (9.08, 60), (9.04, 41), (9.24, 50), (9.16, 29),
    (9.32, 21), (9.45, 66), (9.54, 342), (9.57, 54), (9.65, 15), (9.89, 149), (9.97, 39), (10.1, 29),
    (10.24, 81), (10.46, 120), (10.49, 101), (10.42, 23), (10.26, 37), (10.34, 14), (10.0, 37),
    (10.28, 10), (10.38, 27), (10.75, 29), (11.01, 215), (11.09, 89), (11.26, 77), (11.22, 61),
    (11.48, 57), (11.17, 17), (11.31, 21), (11.79, 96), (11.85, 86), (11.96, 125), (11.82, 47),
    (11.68, 29), (11.73, 17), (12.1, 39), (12.05, 21), (12.33, 10), (12.52, 52), (12.57, 102),
    (12.71, 103), (12.61, 24), (12.89, 21), (13.28, 17), (13.31, 10), (14.06, 344), (14.09, 191),
    (14.08, 142), (14.06, 51), (14.24, 42), (14.29, 30), (13.99, 21), (14.29, 10), (15.32, 17),
    (15.55, 10), (15.69, 31), (15.87, 26), (16.34, 21), (16.53, 65), (16.67, 37), (16.76, 21),
    (17.27, 14), (17.65, 24), (17.83, 10), (18.47, 165), (19.04, 182), (18.93, 48), (18.97, 36),
    (18.76, 27), (19.14, 14), (19.65, 22), (20.02, 161), (20.05, 67), (20.0, 61), (20.07, 41),
    (20.07, 10), (20.27, 49), (20.47, 120), (20.53, 42), (20.49, 27), (20.82, 21), (20.89, 112),
    (21.09, 54), (21.14, 81), (21.17, 40), (20.98, 29), (21.09, 10), (21.47, 10), (21.93, 9),
    (22.33, 207), (22.4, 71), (22.24, 57), (22.26, 46), (22.91, 94), (23.38, 138), (23.78, 138),
    (23.31, 72), (23.28, 66), (23.14, 52), (22.96, 30), (23.33, 32), (23.68, 25), (23.93, 10),
    (23.0, 14), (23.14, 26),
]
# the packed low-concentration band of retrievals
zlwp_nd_x_band = [
    (3.35, 70), (3.4, 95), (3.45, 60), (3.5, 85), (3.55, 70), (3.6, 90), (3.62, 75), (3.7, 80),
    (3.72, 65), (3.85, 55), (3.88, 70), (3.92, 50), (3.95, 65), (4.0, 55), (4.05, 70), (4.12, 60),
    (4.2, 45), (4.25, 55), (4.28, 40), (4.35, 50), (4.4, 35), (4.45, 55), (4.5, 45), (4.58, 30),
    (4.68, 40), (4.75, 50), (4.9, 40), (4.95, 30), (5.06, 35), (5.12, 25), (5.18, 55), (5.25, 50),
    (5.35, 75), (5.42, 80), (5.5, 70), (5.58, 60), (5.62, 40), (5.72, 70), (5.76, 60), (5.85, 50),
    (5.95, 65), (6.05, 45), (6.15, 40), (6.2, 70), (6.32, 50), (6.4, 40), (6.47, 55), (6.52, 35),
    (6.6, 30), (6.65, 75), (6.7, 60), (6.72, 40), (6.78, 85), (6.8, 50), (6.85, 30), (6.9, 65),
    (6.95, 20), (7.0, 55), (7.05, 80), (7.08, 45), (7.1, 25), (7.15, 60), (7.2, 40), (7.25, 15),
    (7.3, 50), (7.35, 30), (7.4, 65), (7.42, 20), (7.47, 45), (7.52, 10), (7.55, 55), (7.6, 35),
    (7.7, 25), (7.72, 50), (7.78, 20), (7.83, 35), (7.88, 15), (7.95, 40), (8.0, 20), (8.03, 8),
    (8.12, 35), (8.15, 20), (8.2, 45), (8.25, 10), (8.35, 30), (8.4, 15), (8.48, 25), (8.55, 8),
    (8.6, 20), (8.97, 40), (9.0, 20), (9.05, 55), (9.1, 30), (9.15, 10), (9.2, 45), (9.25, 25),
    (9.3, 60), (9.35, 35), (9.4, 15), (9.45, 40), (9.5, 20), (9.55, 50), (9.6, 30), (9.62, 10),
    (9.68, 25), (9.92, 30), (9.95, 15), (10.0, 40), (10.05, 20), (10.12, 35), (10.18, 10),
    (10.22, 25), (10.3, 40), (10.35, 20), (10.45, 30), (10.72, 45), (10.78, 25), (10.82, 60),
    (10.88, 35), (10.92, 15), (10.97, 50), (11.02, 30), (11.05, 70), (11.1, 40), (11.15, 20),
    (11.2, 55), (11.25, 30), (11.3, 10), (11.35, 35), (11.42, 20), (11.6, 40), (11.65, 20),
    (11.7, 55), (11.75, 35), (11.8, 15), (11.88, 45), (11.92, 25), (11.98, 60), (12.02, 30),
    (12.08, 15), (12.15, 40), (12.2, 20), (12.25, 50), (12.32, 30), (12.4, 15), (12.45, 35),
    (12.5, 20), (12.6, 40), (12.65, 15), (12.75, 30), (12.8, 15), (12.85, 25), (12.95, 10),
    (13.22, 20), (13.3, 12), (13.95, 30), (14.0, 15), (14.05, 40), (14.12, 20), (14.18, 35),
    (14.22, 10), (14.35, 20), (14.85, 15), (14.95, 25), (15.05, 10), (15.15, 20), (15.25, 8),
    (15.4, 15), (15.5, 25), (15.6, 10), (15.7, 20), (16.0, 15), (16.2, 25), (16.4, 10), (16.8, 20),
    (17.0, 12), (17.4, 18), (17.8, 15), (18.2, 10), (18.5, 20), (18.9, 15), (19.3, 10), (19.5, 25),
    (19.9, 12), (20.2, 20), (20.4, 10), (20.7, 15), (21.0, 20), (21.3, 8), (21.6, 15), (21.75, 10),
    (22.05, 10), (23.05, 20), (23.2, 40), (23.45, 15), (23.55, 30), (23.75, 20), (23.85, 12),
]
zlwp_nd_dot = [
    (0.94, 135), (0.96, 88), (1.03, 29), (0.95, 0), (2.24, 432), (2.26, 211), (2.39, 255), (2.39, 205),
    (2.41, 174), (3.04, 104), (3.07, 253), (3.09, 431), (3.21, 290), (3.23, 369), (3.24, 259),
    (3.43, 273), (3.64, 257), (3.94, 77), (4.66, 102), (4.49, 0), (5.09, 0), (6.02, 369), (7.12, 2),
    (8.57, 143), (8.85, 2), (8.92, 2), (8.95, 1), (9.05, 2), (9.16, 2), (9.25, 3), (9.77, 41),
    (10.16, 63), (10.29, 68), (10.34, 191), (10.59, 207), (10.55, 54), (10.38, 35), (10.69, 149),
    (10.35, 191), (10.56, 207), (10.68, 149), (10.89, 152), (11.48, 258), (12.24, 165), (12.31, 55),
    (10.15, 62), (10.27, 69), (10.66, 55), (13.03, 29), (14.59, 51), (14.9, 40), (15.04, 48),
    (15.47, 47), (15.62, 49), (16.47, 159), (16.56, 103), (16.92, 122), (16.95, 94), (16.96, 211),
    (17.21, 169), (17.23, 94), (17.3, 341), (17.46, 92), (17.49, 81), (17.51, 54), (17.82, 69),
    (18.02, 26), (18.14, 51), (18.98, 202), (19.21, 29), (19.58, 65), (19.72, 108), (19.74, 249),
    (19.88, 244), (20.56, 82), (20.53, 44), (21.19, 51), (22.3, 27), (23.54, 109), (23.66, 46),
    (23.91, 16), (23.14, 4), (10.1, 2), (10.4, 3), (10.8, 1), (11.5, 2), (12.0, 4), (12.9, 1),
    (13.05, 0.5), (13.15, 0.5), (13.25, 0.5), (13.35, 0.5), (13.45, 0.5), (13.55, 0.5), (13.65, 0.5),
    (13.75, 0.5), (13.85, 0.5), (13.95, 1), (14.3, 3), (14.6, 2), (14.8, 4), (15.2, 3), (15.9, 2),
    (16.1, 4), (16.6, 3), (17.6, 2), (18.1, 3), (18.3, 1), (18.6, 2), (18.8, 4), (19.3, 2), (19.8, 5),
    (20.3, 3), (20.6, 2), (20.9, 4), (21.3, 2), (21.6, 3), (21.8, 1), (22.0, 2), (22.5, 1), (22.8, 0.5),
    (23.0, 3), (23.6, 2), (24.0, 4),
]
d98_nd_x = [
    (2.17, 120), (2.19, 66), (2.15, 64), (3.06, 83), (3.47, 137), (3.49, 106), (3.56, 31), (3.51, 25),
    (3.82, 224), (3.8, 133), (3.78, 41), (3.83, 25), (3.86, 14), (4.8, 131), (4.81, 66), (5.53, 75),
    (5.65, 50), (5.67, 31), (5.78, 128), (5.84, 60), (5.87, 46), (5.9, 25), (5.98, 17), (6.08, 91),
    (6.1, 93), (6.22, 25), (5.78, 66), (22.4, 85), (22.35, 59), (22.42, 44), (23.19, 237), (23.16, 134),
    (23.16, 89), (23.12, 61), (23.38, 44), (23.47, 32), (23.61, 46), (23.7, 92), (23.89, 101),
    (23.84, 37), (23.8, 30), (23.7, 17), (23.31, 14), (23.05, 4),
]
d98_nd_dot = [
    (0.86, 0), (0.92, 4), (1.03, 4), (1.27, 15), (1.51, 19), (1.55, 21), (2.13, 45), (2.23, 304),
    (2.21, 183), (2.25, 18), (2.31, 17), (2.35, 19), (2.39, 17), (2.45, 13), (2.87, 10), (3.07, 20),
    (3.11, 19), (3.12, 141), (3.14, 106), (3.16, 201), (3.18, 192), (3.23, 46), (3.24, 6), (3.35, 7),
    (3.47, 45), (3.69, 198), (3.73, 342), (3.75, 181), (3.68, 184), (3.76, 43), (4.14, 10), (4.31, 4),
    (4.47, 2), (4.62, 2), (4.8, 206), (4.76, 41), (4.78, 36), (5.04, 10), (5.2, 4), (5.57, 1),
    (5.71, 108), (6.1, 4), (6.43, 6), (6.51, 4), (6.14, 31), (6.26, 10), (23.21, 456), (23.7, 269),
    (22.35, 218), (23.24, 151), (23.12, 105), (23.26, 107), (23.5, 69), (23.66, 76), (23.92, 77),
    (22.16, 72), (22.3, 17), (22.63, 0), (22.12, 20), (23.63, 57),
]

# --------------------------------------------------
# DATA: panel 5, optical depth (hour, tau)
# --------------------------------------------------

zlwp_od_x = [
    (2.35, 2.2), (2.39, 2.9), (3.25, 8.4), (3.33, 5.3), (3.37, 11.5), (3.41, 6.8), (3.49, 10.3),
    (3.57, 9.9), (3.65, 4.5), (3.75, 2.2), (3.82, 6.8), (3.86, 13.0), (3.9, 17.3), (3.98, 15.7),
    (4.05, 12.2), (4.1, 21.9), (4.18, 31.2), (4.22, 23.4), (4.14, 8.4), (4.27, 5.3), (4.31, 11.1),
    (4.39, 17.6), (4.43, 18.0), (4.47, 28.1), (4.47, 22.3), (4.51, 11.1), (4.55, 14.9), (4.59, 10.3),
    (4.62, 30.8), (4.64, 29.6), (4.51, 2.2), (4.67, 3.7), (4.76, 1.4), (4.86, 12.6), (4.92, 6.8),
    (4.98, 8.7), (5.04, 2.9), (5.12, 1.0), (5.2, 4.5), (5.29, 9.1), (5.33, 6.8), (5.38, 3.7),
    (5.45, 12.6), (5.49, 8.7), (5.57, 5.7), (5.65, 7.6), (5.69, 1.0), (5.78, 9.1), (5.86, 12.2),
    (5.9, 16.5), (5.94, 13.4), (5.98, 7.6), (6.06, 6.0), (6.14, 9.5), (6.18, 2.9), (6.3, 20.0),
    (6.35, 18.0), (6.41, 16.1), (6.39, 13.8), (6.47, 8.4), (6.49, 22.7), (6.55, 12.2), (6.59, 6.0),
    (6.63, 1.4), (6.71, 8.7), (6.78, 27.7), (6.84, 24.6), (6.86, 30.8), (6.92, 16.1), (6.98, 33.5),
    (6.96, 18.4), (7.0, 4.1), (7.08, 2.9), (7.16, 27.3), (7.2, 21.5), (7.24, 24.6), (7.28, 37.0),
    (7.32, 11.8), (7.41, 32.3), (7.45, 33.9), (7.41, 23.4), (7.49, 20.0), (7.53, 15.3), (7.57, 13.0),
    (7.63, 37.8), (7.63, 30.4), (7.69, 22.3), (7.73, 27.3), (7.77, 26.2), (7.81, 18.4), (7.85, 15.3),
    (7.89, 12.6), (7.94, 3.7), (8.06, 22.3), (8.1, 18.4), (8.24, 27.3), (8.26, 21.9), (8.34, 17.3),
    (8.3, 12.6), (8.32, 4.5), (8.41, 34.7), (8.47, 21.1), (8.53, 30.2), (8.51, 23.8), (8.63, 17.6),
    (8.99, 7.2), (9.04, 6.0), (9.12, 2.9), (9.16, 1.4), (9.2, 10.7), (9.24, 21.1), (9.28, 25.4),
    (9.32, 6.8), (9.4, 16.9), (9.43, 28.1), (9.45, 25.8), (9.49, 12.6), (9.54, 54.4), (9.59, 33.9),
    (9.65, 18.4), (9.69, 12.2), (9.89, 4.5), (9.89, 23.1), (9.97, 32.0), (9.99, 25.0), (10.01, 14.6),
    (10.06, 16.5), (10.14, 5.3), (10.22, 18.0), (10.3, 22.3), (10.38, 20.4), (10.42, 16.5),
    (10.46, 27.3), (10.5, 35.8), (10.71, 38.9), (10.05, 14.2), (10.12, 5.5), (10.26, 11.6),
    (10.28, 9.6), (10.45, 12.2), (10.75, 39.0), (11.01, 63.4), (11.08, 28.3), (10.98, 25.6),
    (11.1, 20.1), (11.17, 12.2), (11.22, 9.9), (11.22, 8.2), (11.31, 25.9), (11.33, 23.9),
    (11.31, 21.3), (11.38, 10.6), (11.48, 31.7), (11.63, 5.2), (11.68, 2.2), (11.77, 3.9),
    (11.79, 16.9), (11.79, 12.2), (11.85, 29.7), (11.89, 37.3), (11.89, 26.3), (11.96, 27.6),
    (12.01, 6.9), (12.1, 16.2), (12.17, 37.3), (12.13, 11.2), (12.33, 1.9), (12.38, 15.2),
    (12.47, 14.2), (12.52, 16.8), (12.57, 19.0), (12.61, 13.6), (12.5, 6.9), (12.57, 4.9),
    (12.66, 2.2), (12.8, 1.5), (12.89, 12.9), (12.87, 4.5), (13.28, 5.2), (13.31, 1.5), (13.99, 10.6),
    (14.06, 28.3), (14.06, 26.6), (14.15, 3.5), (14.27, 7.9), (14.31, 17.2), (14.29, 11.9),
    (14.43, 1.5), (15.19, 19.6), (15.27, 6.5), (15.6, 8.9), (15.64, 39.0), (15.67, 14.2), (15.78, 6.9),
    (15.99, 20.4), (16.15, 14.2), (16.29, 13.6), (16.53, 11.9), (16.67, 22.3), (16.7, 20.9),
    (16.71, 33.3), (16.73, 23.9), (17.27, 12.6), (17.66, 11.9), (17.69, 10.6), (17.72, 5.5),
    (17.76, 1.9), (17.85, 7.9), (17.92, 11.9), (18.47, 39.0), (18.74, 13.2), (18.74, 8.2),
    (18.81, 6.5), (18.9, 5.5), (18.93, 10.9), (19.04, 13.7), (19.14, 3.5), (19.23, 5.2), (19.37, 3.2),
    (19.65, 14.1), (19.99, 12.4), (20.02, 8.9), (20.05, 7.2), (20.12, 0.9), (20.21, 2.9), (20.44, 4.9),
    (20.53, 6.9), (20.67, 3.5), (20.77, 5.2), (20.89, 36.6), (20.95, 25.1), (20.98, 20.9),
    (21.05, 17.2), (21.14, 15.2), (21.09, 7.5), (21.17, 8.9), (21.23, 1.2), (21.37, 3.2), (21.56, 2.5),
    (22.01, 2.2), (22.24, 15.6), (22.29, 8.6), (22.33, 9.2), (22.4, 6.5), (22.35, 2.2), (22.94, 12.9),
    (22.96, 17.6), (22.98, 10.6), (23.03, 16.2), (23.1, 8.2), (23.16, 6.2), (23.22, 9.6),
    (23.31, 25.6), (23.28, 13.7), (23.38, 9.9), (23.69, 9.2), (23.75, 4.5), (23.8, 14.9), (23.89, 1.9),
    (23.94, 0.3),
]
# extra low optical depth retrievals late in the day
zlwp_od_x_band = [
    (18.76, 13.4), (18.73, 7.4), (18.94, 10.7), (18.92, 5.3), (19.1, 3.3), (19.16, 3.3), (19.35, 2.0),
    (19.47, 2.7), (19.64, 14.0), (20.04, 6.0), (20.12, 1.3), (20.24, 2.7), (20.45, 6.7), (20.61, 2.7),
    (20.71, 6.7), (21.1, 6.7), (21.12, 5.0), (21.18, 8.7), (21.22, 1.3), (21.38, 3.0), (21.59, 3.0),
    (21.87, 4.0), (22.02, 2.3), (22.32, 9.4), (22.38, 2.3), (22.91, 8.0), (22.95, 10.7), (22.97, 18.0),
    (23.01, 13.7), (23.18, 13.4), (23.18, 6.7), (23.3, 25.7), (23.71, 4.7), (23.77, 15.0), (23.91, 1.3),
]
zlwp_od_dot = [
    (0.94, 0.5), (1.03, 0.5), (1.49, 7.2), (1.54, 6.4), (2.12, 4.9), (2.23, 10.1), (2.2, 5.7),
    (2.27, 4.9), (2.31, 6.4), (2.41, 1.4), (2.87, 2.0), (3.04, 1.4), (3.14, 3.6), (3.2, 4.1),
    (4.51, 0.2), (4.92, 0.2), (7.12, 0.5), (8.77, 44.3), (8.79, 24.2), (8.86, 20.4), (8.87, 18.8),
    (8.94, 24.2), (8.99, 21.5), (8.79, 15.3), (8.9, 13.8), (8.69, 8.4), (8.73, 3.7), (9.73, 64.5),
    (9.77, 67.2), (9.8, 51.7), (9.76, 27.3), (9.69, 21.5), (10.22, 4.1), (10.34, 34.3), (10.63, 32.4),
    (10.65, 44.1), (10.61, 24.6), (10.57, 21.1), (10.84, 67.8), (10.89, 55.5), (10.66, 44.1),
    (10.64, 32.4), (10.35, 34.1), (11.48, 49.1), (12.19, 32.5), (12.24, 21.6), (12.96, 34.1),
    (12.94, 27.3), (12.99, 18.9), (13.05, 0.3), (13.15, 0.2), (13.25, 0.3), (13.4, 0.2), (13.5, 0.3),
    (13.6, 0.2), (13.7, 0.3), (13.8, 0.5), (13.9, 0.8), (14.03, 17.7), (14.57, 24.9), (14.55, 16.2),
    (14.9, 21.1), (14.92, 16.6), (15.04, 24.3), (15.31, 47.0), (15.43, 32.3), (15.46, 15.2),
    (15.62, 56.5), (16.08, 27.7), (16.15, 22.4), (16.04, 16.4), (16.55, 17.9), (16.85, 29.7),
    (16.88, 24.6), (16.83, 23.3), (16.95, 17.2), (16.99, 7.9), (17.04, 3.5), (17.3, 69.4),
    (17.46, 25.1), (17.51, 18.7), (17.23, 18.9), (17.82, 21.9), (18.0, 25.1), (18.07, 26.1),
    (18.09, 47.1), (18.11, 35.5), (18.13, 58.1), (18.11, 29.7), (18.14, 26.4), (18.25, 19.1),
    (18.2, 17.2), (18.34, 13.9), (18.65, 18.2), (18.84, 16.8), (19.0, 40.8), (19.0, 39.3),
    (19.44, 25.1), (19.58, 33.0), (19.6, 29.7), (19.71, 27.5), (19.74, 59.7), (19.77, 43.5),
    (19.81, 31.6), (19.84, 26.6), (19.88, 85.0), (19.88, 18.4), (20.37, 28.4), (20.35, 20.2),
    (20.39, 12.9), (20.86, 29.1), (20.82, 25.7), (20.83, 10.6), (21.67, 9.7), (21.73, 7.9),
    (23.03, 27.7), (23.54, 75.6), (23.44, 30.9), (23.54, 30.3), (23.56, 20.9), (23.45, 3.9),
    (23.24, 0.2),
]
d98_od_x = [
    (2.15, 1.4), (2.19, 1.0), (3.06, 2.2), (3.8, 9.1), (3.82, 10.3), (3.83, 7.6), (3.9, 6.4),
    (4.22, 7.6), (4.8, 3.3), (5.53, 2.2), (5.69, 2.9), (5.82, 4.1), (5.9, 4.5), (5.98, 6.8), (6.0, 5.7),
    (6.1, 6.0), (6.39, 12.6), (6.22, 4.1), (23.05, 21.3), (23.03, 19.9), (23.14, 15.6), (23.19, 13.2),
    (23.33, 8.9), (23.47, 15.6), (23.54, 21.9), (23.61, 14.2), (23.7, 12.9), (23.8, 11.9),
    (23.84, 12.6), (23.91, 11.7), (22.31, 5.9), (22.4, 3.9), (22.21, 0.5),
]
d98_od_dot = [
    (0.86, 0.2), (1.27, 1.0), (1.51, 1.4), (1.56, 1.4), (2.12, 2.2), (2.43, 0.8), (2.87, 0.6),
    (3.04, 1.4), (3.16, 2.6), (3.33, 4.1), (3.49, 2.9), (3.65, 4.9), (3.96, 4.1), (4.0, 4.9),
    (4.06, 5.4), (4.31, 7.6), (4.39, 6.4), (4.43, 8.7), (4.47, 10.3), (4.51, 1.0), (4.89, 0.1),
    (5.24, 4.5), (6.02, 0.6), (6.26, 6.2), (6.35, 12.2), (23.05, 27.6), (23.07, 25.3), (23.03, 18.2),
    (23.16, 16.2), (22.91, 3.9), (22.94, 5.2), (23.24, 1.9), (23.56, 22.3), (23.59, 20.9),
    (23.61, 17.9), (23.38, 9.9), (23.91, 6.9), (22.4, 4.9),
]

# uncertainty factors per time window: (start hour, end hour, factor)
re_unc_zlwp = [(0.0, 3.7, 2.2), (3.7, 7.4, 1.35), (7.4, 24.1, 5.0)]
re_unc_d98 = [(0.0, 7.0, 1.8), (22.0, 24.1, 3.0)]
nd_unc_zlwp = [(0.0, 3.7, 30.0), (3.7, 7.4, 6.0), (7.4, 24.1, 25.0)]
nd_unc_d98 = [(0.0, 7.0, 2.0), (22.0, 24.1, 3.0)]
od_unc_zlwp = [(0.0, 3.7, 3.0), (3.7, 7.4, 1.35), (7.4, 24.1, 4.5)]
od_unc_d98 = [(0.0, 7.0, 1.4), (22.0, 24.1, 1.4)]


# --------------------------------------------------
# STYLE
# --------------------------------------------------

BLUE = "#0000FF"
ORANGE = "#FF8800"
AXBLUE = "#0072BD"
DARK = "#262626"
SHADE_BLUE = "#CCCCFF"
MWR_COLOR = "#A2142F"

plt.rcParams["font.family"] = ["DejaVu Sans"]


def unzip(points):
    t = np.array([p[0] for p in points], dtype=float)
    v = np.array([p[1] for p in points], dtype=float)
    return t, v


def error_spans(points, table):
    """Vertical uncertainty bars from a multiplicative factor per time window."""
    ts, lo, hi = [], [], []
    for t, v in points:
        for a, b, f in table:
            if a <= t < b:
                ts.append(t)
                lo.append(v / f)
                hi.append(v * f)
                break
    return ts, lo, hi


def style_axes(ax, ylim, yticks):
    ax.set_xlim(0, 24)
    ax.set_ylim(*ylim)
    ax.set_xticks([0, 5, 10, 15, 20])
    ax.set_yticks(yticks)
    ax.yaxis.set_major_formatter(FuncFormatter(lambda v, p: "%g" % v))
    ax.spines["top"].set_visible(False)
    for side in ["left", "right"]:
        ax.spines[side].set_color(AXBLUE)
        ax.spines[side].set_linewidth(0.6)
    ax.spines["bottom"].set_color(DARK)
    ax.spines["bottom"].set_linewidth(0.7)
    ax.tick_params(axis="y", direction="in", length=6.5, width=0.6, colors=AXBLUE,
                   labelsize=9, pad=7, right=False)
    ax.tick_params(axis="x", direction="in", length=6.5, width=0.6, colors=DARK,
                   labelsize=9, pad=8.5, top=False)
    ax.set_xlabel("UTC hours on 20240518", fontsize=11, color=DARK, labelpad=7)


def draw_retrieval(ax, d98_x, d98_dot, z_x, z_dot, d98_unc, z_unc):
    # uncertainty bars
    t, lo, hi = error_spans(d98_x + d98_dot, d98_unc)
    ax.vlines(t, lo, hi, colors=ORANGE, alpha=0.22, lw=1.0, zorder=1)
    t, lo, hi = error_spans(z_x + z_dot, z_unc)
    ax.vlines(t, lo, hi, colors=SHADE_BLUE, lw=1.0, zorder=1)
    # small dots (lower quality retrievals)
    t, v = unzip(d98_dot)
    ax.plot(t, v, "o", ms=2.4, mew=0, color=ORANGE, zorder=2)
    t, v = unzip(z_dot)
    ax.plot(t, v, "o", ms=2.4, mew=0, color=BLUE, zorder=2)
    # main retrievals
    t, v = unzip(z_x)
    ax.plot(t, v, "X", ms=6.5, mew=0, color=BLUE, zorder=3)
    t, v = unzip(d98_x)
    ax.plot(t, v, "X", ms=6.5, mew=0, color=ORANGE, alpha=0.85, zorder=4)


def marker_legend(ax, labels, x0, y0, pad):
    handles = [Line2D([], [], ls="none", marker="X", ms=6.5, mew=0, color=ORANGE),
               Line2D([], [], ls="none", marker="X", ms=6.5, mew=0, color=BLUE)]
    ax.legend(handles, labels, loc="upper left", bbox_to_anchor=(x0, y0), frameon=False,
              borderaxespad=0, borderpad=0, handlelength=3.0, handletextpad=pad,
              labelspacing=0.3, fontsize=9.5)


# --------------------------------------------------
# FIGURE
# --------------------------------------------------

fig = plt.figure(figsize=(12.75, 20), dpi=300)
left, width, height = 0.098, 0.687, 0.1507
bottoms = [0.7997, 0.612, 0.4245, 0.237, 0.0495]
axes = [fig.add_axes([left, b, width, height]) for b in bottoms]

# 1. data quality flags
ax = axes[0]
d98_flags = [(10, d98_flag10), (9, d98_flag9), (6, d98_flag6), (4, d98_flag4), (3, d98_flag3),
             (2, d98_flag2), (1, d98_flag1), (0, d98_flag0)]
zlwp_flags = [(10.2, zlwp_flag10), (9.2, zlwp_flag9), (8.2, zlwp_flag8), (6.2, zlwp_flag6),
              (5.2, zlwp_flag5), (4.2, zlwp_flag4), (1.2, zlwp_flag1), (0.2, zlwp_flag0)]
for flags, color in [(d98_flags, ORANGE), (zlwp_flags, BLUE)]:
    for level, spans in flags:
        starts = [s[0] for s in spans]
        ends = [s[1] for s in spans]
        lc = ax.hlines([level] * len(spans), starts, ends, colors=color, lw=2.3)
        lc.set_capstyle("round")
style_axes(ax, (-0.5, 11.5), [0, 2, 4, 6, 8, 10])
ax.text(-0.0506, 0.295, "DQ Flag", rotation=90, color=AXBLUE, fontsize=11,
        ha="center", va="center", transform=ax.transAxes)
ax.text(-0.0506, 0.513, "D98 &", rotation=90, color=ORANGE, fontsize=11,
        ha="center", va="center", transform=ax.transAxes)
ax.text(-0.0506, 0.712, "Z-LWP", rotation=90, color=BLUE, fontsize=11,
        ha="center", va="center", transform=ax.transAxes)

# 2. liquid water path
ax = axes[1]
t, v = unzip(mwr_lwp)
ax.plot(t, v, color="#C19EC1", lw=0.9, zorder=1)
t, v = unzip(d98_lwp)
ax.plot(t, v, color=ORANGE, lw=3.4, solid_capstyle="round", solid_joinstyle="round", zorder=2)
t, v = unzip(zlwp_lwp)
ax.plot(t, v, color=BLUE, lw=2.6, dashes=(5, 1.6), dash_joinstyle="round", zorder=3)
# isolated samples show up only through their markers
iso = []
for i in range(len(v)):
    prev_nan = i == 0 or np.isnan(v[i - 1])
    next_nan = i == len(v) - 1 or np.isnan(v[i + 1])
    if not np.isnan(v[i]) and prev_nan and next_nan:
        iso.append(i)
ax.plot(t[iso], v[iso], "X", ms=6.5, mew=0, color=BLUE, zorder=4)
style_axes(ax, (-0.1, 3.72), [0, 0.5, 1, 1.5, 2, 2.5, 3, 3.5])
ax.set_ylabel(r"log10 Liquid Water Path, log10(g/m$^2$)", fontsize=11, color=AXBLUE)
ax.yaxis.set_label_coords(-0.043, 0.5)
lwp_handles = [Line2D([], [], color=MWR_COLOR, lw=2, marker="X", ms=6.5, mew=0),
               Line2D([], [], color=ORANGE, lw=2, marker="X", ms=6.5, mew=0),
               Line2D([], [], color=BLUE, lw=2, dashes=(9, 6.5), marker="X", ms=6.5, mew=0)]
ax.legend(lwp_handles, ["MWR Phy Iter", "D98 LWP", "Z-LWP LWP"], loc="upper left",
          bbox_to_anchor=(0.069, 0.92), frameon=False, borderaxespad=0, borderpad=0,
          handlelength=5.6, handletextpad=0.6, labelspacing=0.3, fontsize=9.5)

# 3. effective radius
ax = axes[2]
draw_retrieval(ax, d98_re_x, d98_re_dot, zlwp_re_x + zlwp_re_x_band, zlwp_re_dot,
               re_unc_d98, re_unc_zlwp)
style_axes(ax, (-0.1, 25), [0, 5, 10, 15, 20, 25])
ax.set_ylabel(r"Effective Radius,$\mu$m", fontsize=11, color=AXBLUE)
ax.yaxis.set_label_coords(-0.040, 0.5)
marker_legend(ax, ["D98 Re", "Z-LWP"], 0.068, 0.955, 2.1)

# 4. droplet concentration
ax = axes[3]
draw_retrieval(ax, d98_nd_x, d98_nd_dot, zlwp_nd_x + zlwp_nd_x_band, zlwp_nd_dot,
               nd_unc_d98, nd_unc_zlwp)
style_axes(ax, (0, 500), [0, 100, 200, 300, 400, 500])
ax.set_ylabel("Droplet Concentration, #/cc", fontsize=11, color=AXBLUE)
ax.yaxis.set_label_coords(-0.049, 0.5)
marker_legend(ax, ["D98 Nd", "Z-LWP Nd"], 0.558, 0.562, 2.1)

# 5. optical depth
ax = axes[4]
draw_retrieval(ax, d98_od_x, d98_od_dot, zlwp_od_x + zlwp_od_x_band, zlwp_od_dot,
               od_unc_d98, od_unc_zlwp)
style_axes(ax, (0, 100), [0, 20, 40, 60, 80, 100])
ax.set_ylabel("Optical Depth", fontsize=11, color=AXBLUE)
ax.yaxis.set_label_coords(-0.050, 0.5)
marker_legend(ax, ["D98 OD", "Z-LWP Nd"], 0.0595, 0.955, 2.0)

fig.savefig("out.png", dpi=300)
